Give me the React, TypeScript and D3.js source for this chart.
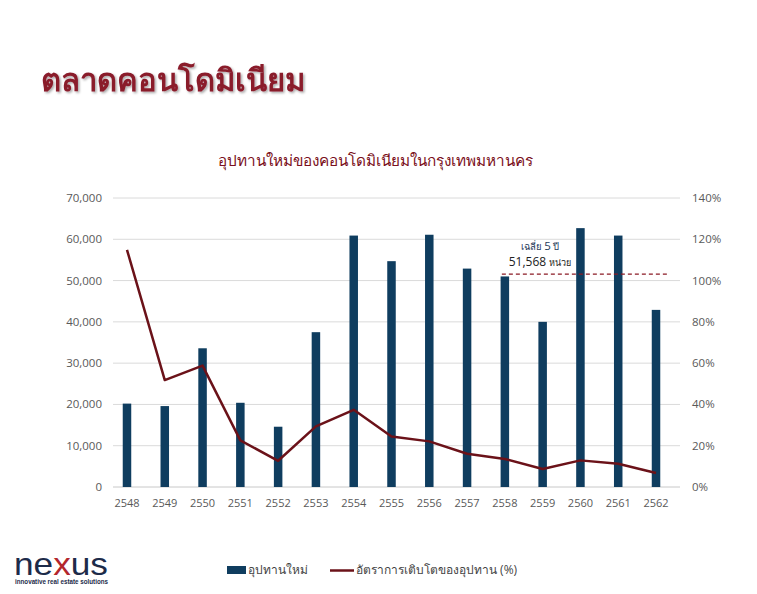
import React from 'react';
import * as d3 from 'd3';

// Years (Buddhist era) on the category axis
const years = ['2548', '2549', '2550', '2551', '2552', '2553', '2554', '2555', '2556', '2557', '2558', '2559', '2560', '2561', '2562'];
// New condominium supply (units)
const supply = [20200, 19600, 33600, 20400, 14600, 37500, 60900, 54700, 61100, 52900, 51000, 40000, 62700, 60900, 42900];
// Growth rate of supply (%)
const growth = [114.9, 51.8, 58.8, 22.6, 12.7, 29.4, 37.4, 24.5, 22.1, 16.1, 13.6, 8.7, 12.9, 11.3, 6.8];
const leftTicks = [0, 10000, 20000, 30000, 40000, 50000, 60000, 70000];
const rightTicks = [0, 20, 40, 60, 80, 100, 120, 140];
const avg5 = 51568;
const avgYears = ['2558', '2562'];

const W = 757;
const H = 594;
const top = 198;
const bottom = 487;
const gridLeft = 113;
const gridRight = 680;

const barColor = '#0f3d5f';
const lineColor = '#6b1219';
const titleColor = '#8a1b2c';
const font = "'Open Sans', 'Noto Sans', sans-serif";
const logoFont = "'Liberation Sans', Arial, sans-serif";

const App: React.FC = () => {
  const x = d3.scaleBand<string>().domain(years).range([108, 675]).paddingInner(0.775).paddingOuter(0.39);
  const yL = d3.scaleLinear().domain([0, 70000]).range([bottom, top]);
  const yR = d3.scaleLinear().domain([0, 140]).range([bottom, top]);
  const cx = (y: string) => (x(y) ?? 0) + x.bandwidth() / 2;

  const line = d3.line<number>()
    .x((_, i) => cx(years[i]))
    .y(d => yR(d));

  const fmt = d3.format(',');
  const avgX1 = cx(avgYears[0]) - 3;
  const avgX2 = cx(avgYears[1]) + 13;

  return (
    <svg width={W} height={H} style={{ position: 'absolute', left: 0, top: 0, background: '#fff' }}>
      <defs>
        <filter id="shadow" x="-5%" y="-20%" width="110%" height="150%">
          <feDropShadow dx="1.5" dy="1.5" stdDeviation="1" floodColor="#000" floodOpacity="0.35" />
        </filter>
      </defs>

      {/* page title */}
      <text x={41} y={91} fontFamily={font} fontSize={31} fontWeight="bold" fill={titleColor} filter="url(#shadow)">
        ตลาดคอนโดมิเนียม
      </text>

      {/* chart title */}
      <text x={375} y={166} textAnchor="middle" fontFamily={font} fontSize={15.3} fill="#7a1020">
        อุปทานใหม่ของคอนโดมิเนียมในกรุงเทพมหานคร
      </text>

      {/* gridlines */}
      <g>
        {leftTicks.map(t => (
          <line key={t} x1={gridLeft} x2={gridRight} y1={yL(t)} y2={yL(t)} stroke={t === 0 ? '#c8c8c8' : '#dadada'} strokeWidth={1} />
        ))}
      </g>

      {/* left axis */}
      <g fontFamily={font} fontSize={11.5} fill="#595959" textAnchor="end">
        {leftTicks.map(t => (
          <text key={t} x={102} y={yL(t)} dy="0.35em">{fmt(t)}</text>
        ))}
      </g>

      {/* right axis */}
      <g fontFamily={font} fontSize={11.5} fill="#595959" textAnchor="start">
        {rightTicks.map(t => (
          <text key={t} x={692} y={yR(t)} dy="0.35em">{t}%</text>
        ))}
      </g>

      {/* x axis labels */}
      <g fontFamily={font} fontSize={11} fill="#595959" textAnchor="middle">
        {years.map(y => (
          <text key={y} x={cx(y)} y={507}>{y}</text>
        ))}
      </g>

      {/* bars */}
      <g fill={barColor}>
        {supply.map((v, i) => (
          <rect key={years[i]} x={x(years[i])} y={yL(v)} width={x.bandwidth()} height={yL(0) - yL(v)} />
        ))}
      </g>

      {/* growth line */}
      <path d={line(growth) ?? ''} fill="none" stroke={lineColor} strokeWidth={2.5} strokeLinejoin="round" />

      {/* 5-year average */}
      <line x1={avgX1} x2={avgX2} y1={yL(avg5)} y2={yL(avg5)} stroke="#8b1a24" strokeWidth={1.3} strokeDasharray="4 3" />
      <text x={540} y={250} textAnchor="middle" fontFamily={font} fill="#1f3a5a">
        <tspan fontSize={9.5}>เฉลี่ย </tspan><tspan fontSize={11.5}>5</tspan><tspan fontSize={9.5}> ปี</tspan>
      </text>
      <text x={540} y={266} textAnchor="middle" fontFamily={font} fill="#222">
        <tspan fontSize={12}>{fmt(avg5)} </tspan><tspan fontSize={9}>หน่วย</tspan>
      </text>

      {/* legend */}
      <g fontFamily={font} fontSize={12} fill="#444">
        <rect x={227} y={566} width={19} height={8} fill={barColor} />
        <text x={248} y={574}>อุปทานใหม่</text>
        <line x1={330} x2={354} y1={570.5} y2={570.5} stroke={lineColor} strokeWidth={2.5} />
        <text x={356} y={574}>อัตราการเติบโตของอุปทาน (%)</text>
      </g>

      {/* logo */}
      <g>
        <text x={14} y={575} fontFamily={logoFont} fontSize={32} fill="#1d2b4a" textLength={94} lengthAdjust="spacingAndGlyphs">
          ne<tspan fill="#b3262d">x</tspan>us
        </text>
        <text x={15} y={584} fontFamily={logoFont} fontSize={7.5} fontWeight="bold" fill="#1d2b4a" textLength={93} lengthAdjust="spacingAndGlyphs">
          innovative real estate solutions
        </text>
      </g>
    </svg>
  );
};

export default App;
